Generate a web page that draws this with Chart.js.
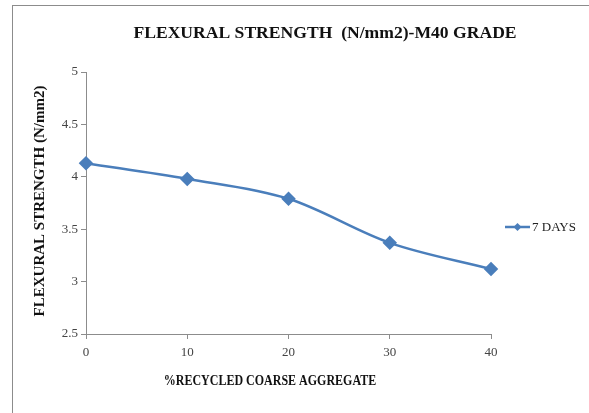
<!DOCTYPE html>
<html lang="en">
<head>
    <meta charset="UTF-8">
    <title>Flexural Strength - M40 Grade</title>
    <script src="https://cdn.jsdelivr.net/npm/chart.js"></script>
    <style>
        body { margin: 0; background: #fff; overflow: hidden; }
        #frame {
            position: absolute; left: 12px; top: 5px; width: 600px; height: 420px;
            border-left: 1.5px solid #8c8c8c; border-top: 1.5px solid #8c8c8c;
        }
        #wrap { position: absolute; left: 0; top: 0; width: 589px; height: 413px; }
    </style>
</head>
<body>
    <div id="frame"></div>
    <div id="wrap"><canvas id="flexChart"></canvas></div>

    <script>
        // values
        const recycledPct = [0, 10, 20, 30, 40];
        const days7 = [4.13, 3.98, 3.79, 3.37, 3.12];
        const seriesName = '7 DAYS';
        const chartTitle = 'FLEXURAL STRENGTH  (N/mm2)-M40 GRADE';
        const xTitle = '%RECYCLED COARSE AGGREGATE';
        const yTitle = 'FLEXURAL STRENGTH (N/mm2)';

        const serif = "'Liberation Serif', 'Times New Roman', serif";
        const blue = '#4a7ebb';

        // Excel-like text placement: chart title, axis titles and the side legend
        const excelText = {
            id: 'excelText',
            afterDraw(chart) {
                const ctx = chart.ctx;
                ctx.save();
                ctx.fillStyle = '#111';
                ctx.textAlign = 'center';
                ctx.textBaseline = 'middle';

                ctx.font = 'bold 17.6px ' + serif;
                ctx.fillText(chartTitle, 325, 33);

                // x title looks horizontally squeezed in the original
                ctx.save();
                ctx.translate(270, 381);
                ctx.scale(0.8, 1);
                ctx.font = 'bold 15px ' + serif;
                ctx.fillText(xTitle, 0, 0);
                ctx.restore();

                ctx.save();
                ctx.translate(40, 201);
                ctx.rotate(-Math.PI / 2);
                ctx.font = 'bold 15px ' + serif;
                ctx.fillText(yTitle, 0, 0);
                ctx.restore();

                // legend: short line with a diamond, then the label
                const y = 227;
                ctx.strokeStyle = blue;
                ctx.lineWidth = 2.5;
                ctx.beginPath();
                ctx.moveTo(505, y);
                ctx.lineTo(530, y);
                ctx.stroke();
                ctx.fillStyle = blue;
                ctx.beginPath();
                ctx.moveTo(517.5, y - 4);
                ctx.lineTo(521.5, y);
                ctx.lineTo(517.5, y + 4);
                ctx.lineTo(513.5, y);
                ctx.closePath();
                ctx.fill();
                ctx.fillStyle = '#222';
                ctx.textAlign = 'left';
                ctx.font = '13px ' + serif;
                ctx.fillText(seriesName, 532, y + 1);
                ctx.restore();
            }
        };

        const ctx = document.getElementById('flexChart').getContext('2d');
        new Chart(ctx, {
            type: 'line',
            data: {
                datasets: [{
                    label: seriesName,
                    data: recycledPct.map((x, i) => ({ x: x, y: days7[i] })),
                    borderColor: blue,
                    backgroundColor: blue,
                    borderWidth: 2.5,
                    pointStyle: 'rectRot',
                    pointRadius: 5.5,
                    pointHoverRadius: 5.5,
                    cubicInterpolationMode: 'monotone',
                    clip: false,
                    fill: false
                }]
            },
            options: {
                responsive: true,
                maintainAspectRatio: false,
                animation: false,
                layout: { padding: { left: 14, right: 98, top: 72, bottom: 0 } },
                plugins: {
                    legend: { display: false },
                    tooltip: { enabled: false },
                    title: { display: false }
                },
                scales: {
                    x: {
                        type: 'linear',
                        min: 0,
                        max: 40,
                        ticks: { stepSize: 10, color: '#444', font: { family: serif, size: 13 }, padding: 6 },
                        grid: { display: true, drawOnChartArea: false, tickLength: 5, color: '#8c8c8c' },
                        border: { color: '#8c8c8c' },
                        afterFit(scale) { scale.height = 79; }
                    },
                    y: {
                        min: 2.5,
                        max: 5,
                        ticks: {
                            stepSize: 0.5, color: '#444', font: { family: serif, size: 13 }, padding: 3,
                            callback: v => String(v)
                        },
                        grid: { display: true, drawOnChartArea: false, tickLength: 5, color: '#8c8c8c' },
                        border: { color: '#8c8c8c' },
                        afterFit(scale) { scale.width = 72; }
                    }
                }
            },
            plugins: [excelText]
        });
    </script>
</body>
</html>
